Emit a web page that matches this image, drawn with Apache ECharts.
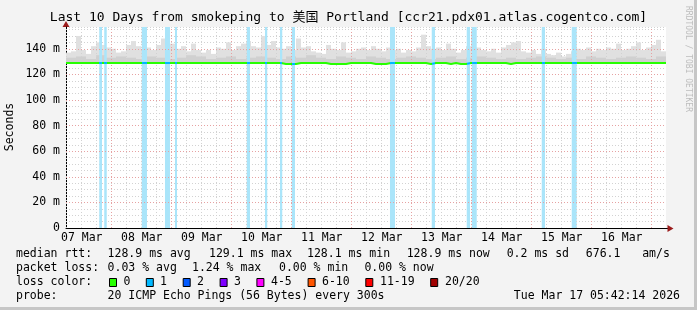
<!DOCTYPE html>
<html><head><meta charset="utf-8">
<script src="https://cdn.jsdelivr.net/npm/echarts@6/dist/echarts.min.js"></script>
<style>html,body{margin:0;padding:0;background:#f3f3f3}#c{width:697px;height:310px}</style>
</head><body><div id="c"></div>
<script>
// ---------------- data ----------------
const titleText = 'Last 10 Days from smokeping to 美国 Portland [ccr21.pdx01.atlas.cogentco.com]';
const startH = 5.7039;   // 07 Mar 05:42:14, hours since 07 Mar 00:00
const endH = 245.7039;   // 17 Mar 05:42:14
const yMax = 157;
const binH = 2;          // hours per smoke bin
const coreBinH = 4;
const dayLabels = ['07 Mar','08 Mar','09 Mar','10 Mar','11 Mar','12 Mar','13 Mar','14 Mar','15 Mar','16 Mar'];
const dayNoonH = [12,36,60,84,108,132,156,180,204,228];
const minorGridH = [6,12,18,24,30,36,42,48,54,60,66,72,78,84,90,96,102,108,114,120,126,132,138,144,150,156,162,168,174,180,186,192,198,204,210,216,222,228,234,240];
const majorGridH = [24,48,72,96,120,144,168,192,216,240];
const majorGridMs = [20,40,60,80,100,120,140];

// top of the smoke (ms) per 2h bin
const smokeTop = [
 137,138,150,139,136,142,145,143,141,140,
 137,138,143,146,142,140,141,139,143,148,
 144,144,140,142,138,144,139,137,139,136,
 141,140,145,139,142,144,146,142,141,150,
 143,146,141,140,142,139,148,141,142,138,
 137,136,143,140,139,145,137,138,140,141,
 139,142,140,138,141,139,140,137,139,138,
 141,151,142,140,141,139,144,140,137,139,
 142,154,141,139,138,140,137,141,143,145,
 146,138,137,139,136,140,136,135,137,134,
 136,138,140,139,141,138,140,139,141,140,
 144,139,140,142,145,139,141,143,147,138];
// denser smoke core (ms) per 4h bin
const smokeCore = [
 133,134,132,135,133,134,133,132,134,133,
 132,133,135,134,132,133,134,132,133,134,
 133,132,134,133,135,133,132,134,133,132,
 134,133,132,133,134,133,132,133,134,132,
 133,134,133,132,133,132,133,134,133,132,
 133,132,134,133,132,133,134,133,132,134];
// median rtt (ms) per 2h bin
const medianRtt = [
 128.9,128.9,128.9,128.9,128.9,128.9,128.9,128.9,128.9,128.9,
 128.9,128.9,128.9,128.9,128.9,128.9,128.9,128.9,128.9,128.9,
 128.9,128.9,128.9,128.9,128.9,128.9,128.9,128.9,128.9,128.9,
 128.9,128.9,128.9,128.9,128.9,128.9,128.9,128.9,128.9,128.9,
 128.9,128.9,128.9,128.1,128.1,128.1,128.9,128.9,128.9,128.9,
 128.9,128.9,128.1,128.1,128.1,128.1,128.9,128.9,128.9,128.9,
 128.9,128.1,128.1,128.1,128.9,128.9,128.9,128.9,128.9,128.9,
 128.9,128.9,128.1,128.9,128.9,128.9,128.1,128.9,128.1,128.1,
 128.9,128.9,128.9,128.9,128.9,128.9,128.9,128.9,128.1,128.9,
 128.9,128.9,128.9,128.9,128.9,128.9,128.9,128.9,128.9,128.9,
 128.9,128.9,128.9,128.9,128.9,128.9,128.9,128.9,128.9,128.9,
 128.9,128.9,128.9,128.9,128.9,128.9,128.9,128.9,128.9,128.9];
// packet loss periods (hours since 07 Mar 00:00), 1/20 loss
const lossStartH = [19.0,21.0,36.0,45.3,49.3,78.0,85.3,91.3,96.0,135.3,152.0,166.0,168.0,196.0,208.0];
const lossEndH   = [20.1,22.0,38.1,47.3,50.1,79.3,86.2,92.2,97.3,137.3,153.3,167.3,170.0,197.3,210.0];

const lossColors = ['#26ff00','#00b8ff','#0059ff','#7e00ff','#ff00ff','#ff5500','#ff0000','#a00000'];
const lossLabels = ['0','1','2','3','4-5','6-10','11-19','20/20'];
const rttStats = ['median rtt:','128.9 ms avg','129.1 ms max','128.1 ms min','128.9 ms now','0.2 ms sd','676.1','am/s'];
const lossStats = ['packet loss:','0.03 % avg','1.24 % max','0.00 % min','0.00 % now'];
const probeText = ['probe:','20 ICMP Echo Pings (56 Bytes) every 300s','Tue Mar 17 05:42:14 2026'];

// ---------------- layout / style ----------------
const MONO = '"DejaVu Sans Mono", "Liberation Mono", monospace';
const FS = 11.5;
const rttX = [16,107.6,209,307,406.7,506.7,585.8,642.2];
const lossX = [16,107.6,192,279,364.4];
const swatchX = [109,145.8,182.7,219.6,256.4,307.6,365.3,430.2];
const swatchLabelX = [123.6,160,197,234,271,322,380,445];

function rectItem(fill) {
  return function (params, api) {
    const p0 = api.coord([api.value(0), api.value(3)]);
    const p1 = api.coord([api.value(1), api.value(2)]);
    return {type:'rect', shape:{x:p0[0], y:p0[1], width:Math.max(p1[0]-p0[0],1.5), height:p1[1]-p0[1]}, style:{fill:fill}};
  };
}

const smokeData = smokeTop.map((v,i)=>[startH+i*binH, startH+(i+1)*binH, medianRtt[i], v]);
const coreData = smokeCore.map((v,i)=>[startH+i*coreBinH, startH+(i+1)*coreBinH, 128.5, v]);
const lossData = lossStartH.map((s,i)=>[s, lossEndH[i], 0, yMax]);
const medianData = medianRtt.map((v,i)=>[startH+i*binH, v]);
medianData.push([endH, medianRtt[medianRtt.length-1]]);

const gridMarks = []
  .concat(minorGridH.map(v=>({xAxis:v, lineStyle:{color:'#d2d2d2', type:[1,2], width:1}})))
  .concat(majorGridH.map(v=>({xAxis:v, lineStyle:{color:'#e6a2a2', type:[1,2], width:1}})))
  .concat(majorGridMs.map(v=>({yAxis:v, lineStyle:{color:'#e6a2a2', type:[1,2], width:1}})));

const txt = (x,y,t,align) => ({type:'text', x:x, y:y, silent:true, style:{text:t, font:FS+'px '+MONO, fill:'#000', verticalAlign:'middle', align:align||'left'}});

const graphic = [];
graphic.push({type:'rect', shape:{x:694,y:0,width:3,height:310}, style:{fill:'#c6c6c6'}, silent:true});
graphic.push({type:'rect', shape:{x:0,y:307,width:697,height:3}, style:{fill:'#c6c6c6'}, silent:true});
graphic.push({type:'text', x:348.5, y:18, silent:true, style:{text:titleText, font:'13px '+MONO+', "Noto Sans CJK SC"', fill:'#000', align:'center', verticalAlign:'middle'}});
graphic.push({type:'text', x:688, y:59, rotation:-Math.PI/2, silent:true, style:{text:'RRDTOOL / TOBI OETIKER', font:'8px '+MONO, fill:'#bdbdbd', align:'center', verticalAlign:'middle'}});
graphic.push({type:'text', x:10.5, y:127, rotation:Math.PI/2, silent:true, style:{text:'Seconds', font:FS+'px '+MONO, fill:'#000', align:'center', verticalAlign:'middle'}});
// axis arrows
graphic.push({type:'polygon', shape:{points:[[66,21],[62.5,27],[69.5,27]]}, style:{fill:'#9b1c1c'}, silent:true});
graphic.push({type:'line', shape:{x1:666,y1:228.5,x2:668,y2:228.5}, style:{stroke:'#000',lineWidth:1}, silent:true});
graphic.push({type:'polygon', shape:{points:[[673.5,228.5],[667.5,225],[667.5,232]]}, style:{fill:'#9b1c1c'}, silent:true});
// legend text
rttStats.forEach((t,i)=>graphic.push(txt(rttX[i],254.5,t)));
lossStats.forEach((t,i)=>graphic.push(txt(lossX[i],268.3,t)));
graphic.push(txt(16,282.3,'loss color:'));
lossColors.forEach((c,i)=>{
  graphic.push({type:'rect', shape:{x:swatchX[i]+0.5,y:278.5,width:7,height:8}, style:{fill:c, stroke:'#000', lineWidth:1}, silent:true});
  graphic.push(txt(swatchLabelX[i],282.3,lossLabels[i]));
});
graphic.push(txt(16,296,probeText[0]));
graphic.push(txt(107.6,296,probeText[1]));
graphic.push(txt(680,296,probeText[2],'right'));

const option = {
  animation:false,
  backgroundColor:'#f3f3f3',
  grid:{left:66, right:31, top:27, bottom:82, show:true, backgroundColor:'#ffffff', borderWidth:0},
  xAxis:{type:'value', min:startH, max:endH, axisLabel:{show:false}, axisTick:{show:false}, splitLine:{show:false},
         axisLine:{show:true, lineStyle:{color:'#000', width:1}}},
  yAxis:{type:'value', min:0, max:yMax, interval:5, axisTick:{show:false},
         axisLine:{show:true, lineStyle:{color:'#000', width:1}},
         axisLabel:{formatter:v => (v%20===0 ? (v===0 ? '0' : v+' m') : ''), fontFamily:MONO, fontSize:FS, color:'#000', margin:6},
         splitLine:{show:true, lineStyle:{color:'#d2d2d2', type:[1,2], width:1}}},
  visualMap:{show:false, type:'piecewise', seriesIndex:5, dimension:0,
             pieces:lossStartH.map((s,i)=>({gte:s, lte:lossEndH[i], color:lossColors[1]})),
             outOfRange:{color:lossColors[0]}},
  series:[
    {type:'line', data:[], z:1, silent:true,
     markLine:{silent:true, symbol:['none','none'], animation:false, label:{show:false}, data:gridMarks}},
    {type:'line', data:[], z:1, silent:true,
     markLine:{silent:true, symbol:['none','none'], animation:false,
       lineStyle:{color:'rgba(0,0,0,0)', width:0},
       label:{show:true, position:'start', formatter:'{b}', fontFamily:MONO, fontSize:FS, color:'#000', distance:4},
       emphasis:{disabled:true},
       data:dayNoonH.map((v,i)=>({xAxis:v, name:dayLabels[i]}))}},
    {type:'custom', z:2, clip:true, silent:true, renderItem:rectItem('#e0e0e0'), encode:{x:[0,1], y:[2,3]}, data:smokeData},
    {type:'custom', z:3, clip:true, silent:true, renderItem:rectItem('#d0d0d0'), encode:{x:[0,1], y:[2,3]}, data:coreData},
    {type:'custom', z:4, clip:true, silent:true, renderItem:rectItem('#aae5fa'), encode:{x:[0,1], y:[2,3]}, data:lossData},
    {type:'line', z:5, step:'end', symbol:'none', silent:true, data:medianData, lineStyle:{width:2}}
  ],
  graphic:graphic
};
const chart = echarts.init(document.getElementById('c'), null, {renderer:'canvas'});
chart.setOption(option);
</script></body></html>
